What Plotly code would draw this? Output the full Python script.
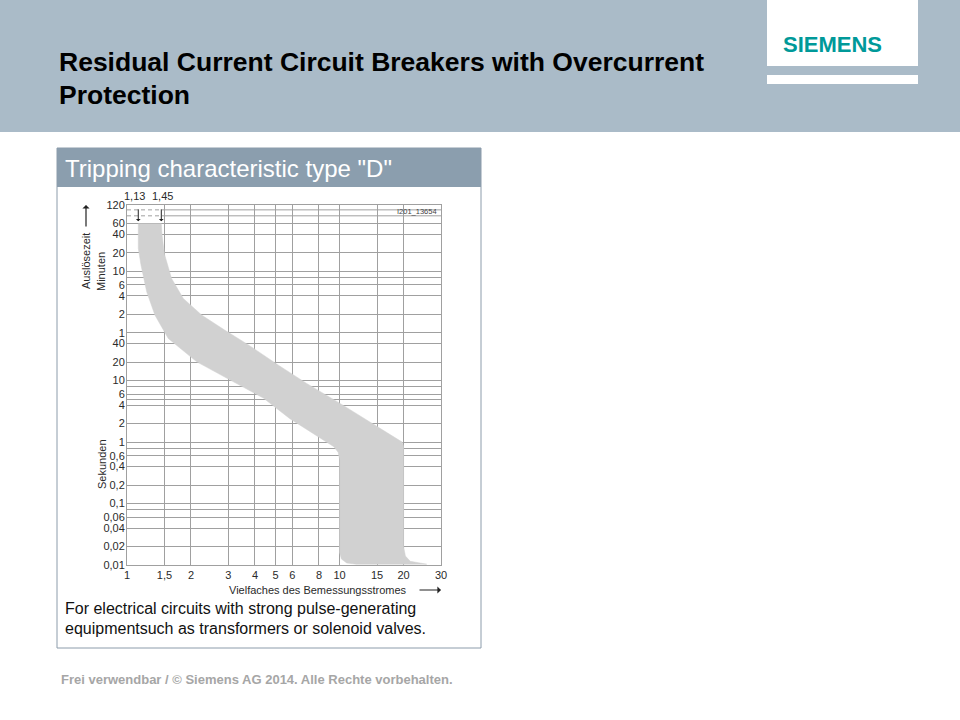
import math
import plotly.graph_objects as go

W, H = 960, 720

# ---------------- data ----------------
x_tick_vals = [1, 1.5, 2, 3, 4, 5, 6, 8, 10, 15, 20, 30]
x_tick_labels = ["1", "1,5", "2", "3", "4", "5", "6", "8", "10", "15", "20", "30"]

minute_ticks = [120, 60, 40, 20, 10, 6, 4, 2, 1]
minute_labels = ["120", "60", "40", "20", "10", "6", "4", "2", "1"]
minute_extra = [8]
minute_dashed = [100, 80]

second_ticks = [40, 20, 10, 6, 4, 2, 1, 0.6, 0.4, 0.2, 0.1, 0.06, 0.04, 0.02, 0.01]
second_labels = ["40", "20", "10", "6", "4", "2", "1", "0,6", "0,4", "0,2", "0,1",
                 "0,06", "0,04", "0,02", "0,01"]
second_extra = [8, 5, 0.8, 0.08]

# tripping band: upper/right boundary (multiple of In, time in s)
upper_x = [1.45, 1.46, 1.50, 1.62, 1.84, 2.25, 2.89, 3.71, 5.2, 7.0, 10.0, 15.0,
           19.7, 20.0, 20.0, 20.4, 21.5, 25.7]
upper_t = [3600, 2400, 1150, 460, 217, 116, 66, 38.5, 17.5, 9.0, 4.3, 1.8,
           1.0, 0.85, 0.02, 0.014, 0.0115, 0.0103]
# lower/left boundary
lower_x = [1.13, 1.13, 1.164, 1.238, 1.354, 1.564, 2.13, 3.05, 4.38, 5.84, 8.0,
           9.4, 9.85, 10.0, 10.0, 10.2, 10.8, 12.0, 25.7]
lower_t = [3600, 1430, 755, 278, 116, 48.5, 20.2, 10.2, 5.2, 2.4, 1.2,
           0.84, 0.68, 0.52, 0.016, 0.0125, 0.0108, 0.0103, 0.0103]

rated_lo, rated_hi = 1.13, 1.45
rated_lo_label, rated_hi_label = "1,13", "1,45"

# ---------------- helpers ----------------
FONT = "Liberation Sans, Arial, sans-serif"
GRID = "#a0a0a0"


def px(x):
    return x / W


def py(y):
    return 1 - y / H


fig = go.Figure()

# band
band_x = upper_x + lower_x[::-1]
band_t = upper_t + lower_t[::-1]
fig.add_trace(go.Scatter(x=band_x, y=band_t, mode="lines", fill="toself",
                         fillcolor="#d1d1d1", line=dict(color="#d1d1d1", width=0.5),
                         hoverinfo="skip", showlegend=False))

# 100 / 80 minute grid lines: dashed on first segment, solid after
for m in minute_dashed:
    t = m * 60
    fig.add_trace(go.Scatter(x=[1, 1.5], y=[t, t], mode="lines",
                             line=dict(color=GRID, width=1, dash="4px,3px"),
                             hoverinfo="skip", showlegend=False))
    fig.add_trace(go.Scatter(x=[1.5, 30], y=[t, t], mode="lines",
                             line=dict(color=GRID, width=1),
                             hoverinfo="skip", showlegend=False))

y_vals = [m * 60 for m in minute_ticks] + [m * 60 for m in minute_extra] + second_ticks + second_extra
y_text = minute_labels + ["" for _ in minute_extra] + second_labels + ["" for _ in second_extra]

fig.update_layout(
    width=W, height=H,
    margin=dict(l=0, r=0, t=0, b=0),
    paper_bgcolor="white", plot_bgcolor="white",
    showlegend=False,
    font=dict(family=FONT, size=11, color="#333"),
    xaxis=dict(type="log", range=[0, math.log10(30)],
               domain=[px(127), px(441)],
               tickvals=x_tick_vals, ticktext=x_tick_labels,
               showgrid=True, gridcolor=GRID, gridwidth=1,
               showline=True, linecolor=GRID, linewidth=1, mirror=True,
               ticks="", zeroline=False, automargin=False,
               tickfont=dict(size=11, color="#2a2a2a")),
    yaxis=dict(type="log", range=[math.log10(0.01), math.log10(7200)],
               domain=[py(565), py(205)],
               tickvals=y_vals, ticktext=y_text,
               showgrid=True, gridcolor=GRID, gridwidth=1,
               showline=True, linecolor=GRID, linewidth=1, mirror=True,
               ticks="", zeroline=False, automargin=False,
               ticklabelstandoff=-1,
               tickfont=dict(size=11, color="#2a2a2a")),
)

shapes = []
# slide header
shapes.append(dict(type="rect", xref="paper", yref="paper", x0=0, x1=1, y0=py(132), y1=1,
                   fillcolor="#aabbc8", line=dict(width=0), layer="below"))
shapes.append(dict(type="rect", xref="paper", yref="paper", x0=px(767), x1=px(918), y0=py(66), y1=1,
                   fillcolor="white", line=dict(width=0), layer="below"))
shapes.append(dict(type="rect", xref="paper", yref="paper", x0=px(767), x1=px(918), y0=py(84), y1=py(75),
                   fillcolor="white", line=dict(width=0), layer="below"))
# panel
shapes.append(dict(type="rect", xref="paper", yref="paper", x0=px(57), x1=px(481), y0=py(187), y1=py(148),
                   fillcolor="#8b9eae", line=dict(width=0), layer="below"))
shapes.append(dict(type="rect", xref="paper", yref="paper", x0=px(57), x1=px(481), y0=py(648), y1=py(148),
                   fillcolor="rgba(0,0,0,0)", line=dict(color="#8c9cab", width=1), layer="below"))
fig.update_layout(shapes=shapes)

anns = []


def text(t, x, y, size, color="#111", xanchor="left", yanchor="middle", bold=False,
         family=FONT, angle=0):
    if bold:
        t = "<b>" + t + "</b>"
    anns.append(dict(text=t, xref="paper", yref="paper", x=px(x), y=py(y),
                     xanchor=xanchor, yanchor=yanchor, showarrow=False, textangle=angle,
                     font=dict(size=size, color=color, family=family)))


TITLE_FONT = "Liberation Sans Narrow, Arial Narrow, Liberation Sans, Arial, sans-serif"
text("Residual Current Circuit Breakers with Overcurrent", 57, 62, 26.5, "#000", bold=True, family=TITLE_FONT)
text("Protection", 57, 95, 26.5, "#000", bold=True, family=TITLE_FONT)
text("SIEMENS", 832, 44, 22, "#009999", xanchor="center", bold=True)
text('Tripping characteristic type "D"', 63, 168, 24, "white")
text("For electrical circuits with strong pulse-generating", 63, 608, 16, "#111")
text("equipmentsuch as transformers or solenoid valves.", 63, 628, 16, "#111")
text("Frei verwendbar / © Siemens AG 2014. Alle Rechte vorbehalten.", 59, 679, 13, "#a6a6a6", bold=True)

# chart texts
text("I201_13654", 439, 211, 7.5, "#444", xanchor="right")
text("Auslösezeit", 86, 261, 11, "#2a2a2a", xanchor="center", angle=-90)
text("Minuten", 101, 272, 11, "#2a2a2a", xanchor="center", angle=-90)
text("Sekunden", 102, 464, 11, "#2a2a2a", xanchor="center", angle=-90)
text("Vielfaches des Bemessungsstromes", 409, 590, 11, "#2a2a2a", xanchor="right")

# axis arrows
anns.append(dict(text="", xref="paper", yref="paper", x=px(86), y=py(205), ax=0, ay=23,
                 showarrow=True, arrowhead=1, arrowsize=1, arrowwidth=1.2, arrowcolor="#222"))
anns.append(dict(text="", xref="paper", yref="paper", x=px(441), y=py(590), ax=-23, ay=0,
                 showarrow=True, arrowhead=1, arrowsize=1, arrowwidth=1.2, arrowcolor="#222"))

# rated current arrows and labels
for xv, lab, shift in [(rated_lo, rated_lo_label, -4), (rated_hi, rated_hi_label, 1)]:
    anns.append(dict(text="", xref="x", yref="y", axref="x", ayref="y",
                     x=math.log10(xv), y=math.log10(65 * 60),
                     ax=math.log10(xv), ay=math.log10(108 * 60),
                     showarrow=True, arrowhead=1, arrowsize=0.8, arrowwidth=1, arrowcolor="#222"))
    anns.append(dict(text=lab, xref="x", yref="paper", x=math.log10(xv), y=py(196),
                     xanchor="center", yanchor="middle", showarrow=False, xshift=shift,
                     font=dict(size=11, color="#2a2a2a", family=FONT)))

fig.update_layout(annotations=anns)

fig.write_html("out.html", config={"displayModeBar": False},
               post_script="document.body.style.margin='0';document.body.style.overflow='hidden';")
